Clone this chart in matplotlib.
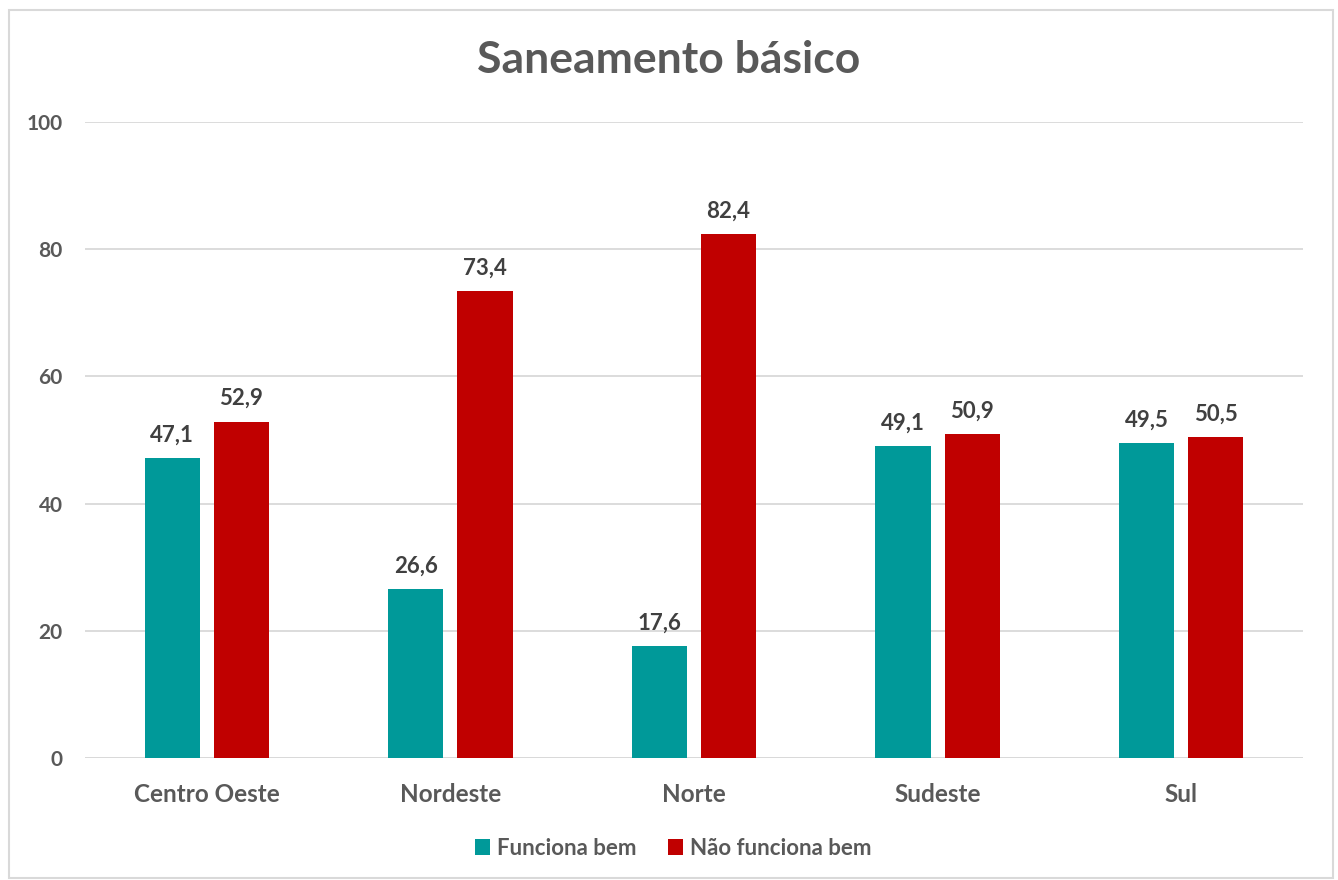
import matplotlib
matplotlib.use("Agg")
import matplotlib.pyplot as plt
import numpy as np
from matplotlib.patches import Rectangle

categories = ["Centro Oeste", "Nordeste", "Norte", "Sudeste", "Sul"]
funciona = [47.1, 26.6, 17.6, 49.1, 49.5]
nao_funciona = [52.9, 73.4, 82.4, 50.9, 50.5]
series_names = ["Funciona bem", "Não funciona bem"]
yticks = [0, 20, 40, 60, 80, 100]
title = "Saneamento básico"

plt.rcParams['font.family'] = ['Lato', 'DejaVu Sans']
plt.rcParams['font.weight'] = 'bold'

fig = plt.figure(figsize=(13.38, 8.8), dpi=100)
fig.patches.append(Rectangle((9/1338, 2/880), 1324/1338, 868/880, transform=fig.transFigure,
                             fill=False, edgecolor='#D9D9D9', linewidth=1.5))
ax = fig.add_axes([85/1338, 1-758/880, (1303-85)/1338, (758-122)/880])

x = np.arange(len(categories))
w = 0.226
off = 0.142
c1 = '#009999'
c2 = '#C00000'
b1 = ax.bar(x - off, funciona, w, color=c1, label=series_names[0], zorder=3)
b2 = ax.bar(x + off, nao_funciona, w, color=c2, label=series_names[1], zorder=3)

for bars, vals in ((b1, funciona), (b2, nao_funciona)):
    for b, v in zip(bars, vals):
        ax.annotate(f"{v:.1f}".replace('.', ','), (b.get_x() + b.get_width()/2, v),
                    xytext=(0, 9), textcoords='offset points', ha='center', va='bottom',
                    fontsize=16, fontweight='bold', color='#404040')

ax.set_xlim(-0.5, len(categories) - 0.5)
ax.set_ylim(0, 100)
ax.set_yticks(yticks)
ax.set_yticklabels([str(t) for t in yticks])
ax.set_xticks(x)
ax.set_xticklabels(categories)
ax.tick_params(axis='both', length=0, labelcolor='#595959')
ax.tick_params(axis='y', pad=16, labelsize=15)
ax.tick_params(axis='x', pad=18, labelsize=17.5)
for lbl in ax.get_xticklabels() + ax.get_yticklabels():
    lbl.set_fontweight('bold')
ax.grid(axis='y', color='#D9D9D9', linewidth=1.3, zorder=0)
for s in ax.spines.values():
    s.set_visible(False)
ax.axhline(0, color='#D9D9D9', linewidth=1.3, zorder=1)

fig.text(0.5, 1-60/880, title, ha='center', va='center', fontsize=32, fontweight='bold', color='#595959')

leg = fig.legend(handles=[b1, b2], loc='center', bbox_to_anchor=(0.503, 1-848/880), ncol=2,
                 frameon=False, fontsize=16, handlelength=0.7, handleheight=0.7,
                 handletextpad=0.3, columnspacing=1.4)
for t in leg.get_texts():
    t.set_color('#595959')
    t.set_fontweight('bold')

fig.savefig("out.png", dpi=100)
